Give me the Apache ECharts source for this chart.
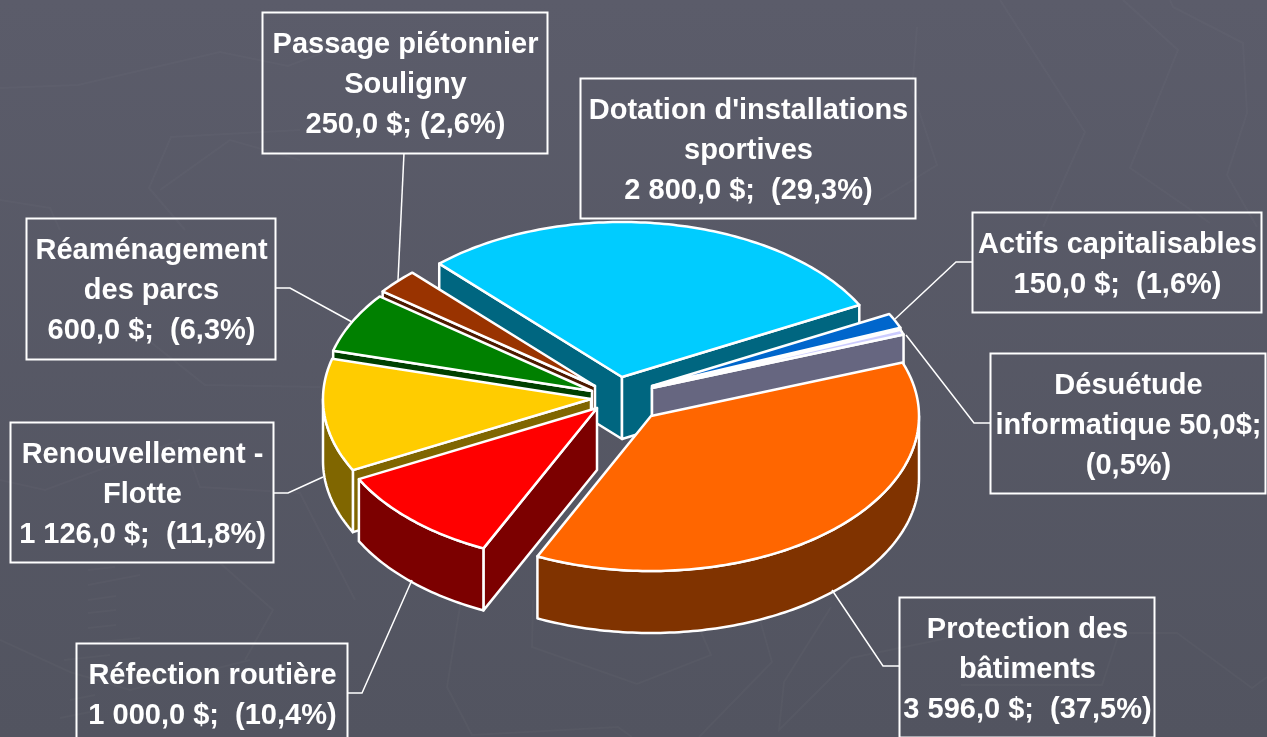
<!DOCTYPE html>
<html>
<head>
<meta charset="utf-8">
<style>
  html, body { margin: 0; padding: 0; background: #565763; }
  #chart { width: 1267px; height: 737px; }
</style>
<script src="https://cdn.jsdelivr.net/npm/echarts@6/dist/echarts.min.js"></script>
</head>
<body>
<div id="chart"></div>
<script>
// data, in pie order (clockwise, starting from the top-left edge of the big blue slice)
const names = [
  "Dotation d'installations sportives",
  "Actifs capitalisables",
  "Désuétude informatique",
  "Protection des bâtiments",
  "Réfection routière",
  "Renouvellement - Flotte",
  "Réaménagement des parcs",
  "Passage piétonnier Souligny"
];
const values = [2800, 150, 50, 3596, 1000, 1126, 600, 250];

const labelLines = [
  ["Dotation d'installations", "sportives", "2 800,0 $;  (29,3%)"],
  ["Actifs capitalisables", "150,0 $;  (1,6%)"],
  ["Désuétude", "informatique 50,0$;", "(0,5%)"],
  ["Protection des", "bâtiments", "3 596,0 $;  (37,5%)"],
  ["Réfection routière", "1 000,0 $;  (10,4%)"],
  ["Renouvellement -", "Flotte", "1 126,0 $;  (11,8%)"],
  ["Réaménagement", "des parcs", "600,0 $;  (6,3%)"],
  ["Passage piétonnier", "Souligny", "250,0 $; (2,6%)"]
];

// look of the slices
const topColors = ["#00ccff", "#0066cc", "#ccccff", "#ff6600", "#ff0000", "#ffcc00", "#008000", "#993300"];
const wallColors = ["#006680", "#003366", "#666680", "#803300", "#7c0000", "#806600", "#004000", "#4d1a00"];

// layout: ECharts has no 3D pie, so the tilted slices are a custom series
const firstAngle = -43;  // degrees clockwise from 12 o'clock
const radiusX = 268;
const radiusY = 155;
const depth = 62;
const apex = [[622, 377], [652, 386], [652, 388], [651, 416], [597, 408], [591, 399], [592, 391], [595, 386]];
const drawOrder = [0, 7, 6, 5, 4, 1, 2, 3]; // back to front

const boxes = [
  [580, 78, 335, 140],
  [972, 212, 289, 100],
  [990, 353, 275, 140],
  [899, 597, 255, 140],
  [76, 643, 271, 100],
  [10, 422, 263, 140],
  [26, 218, 249, 141],
  [262, 12, 285, 141]
];
const leaders = [
  [],
  [[972, 262], [956, 262], [895, 319]],
  [[990, 423], [974, 423], [906, 335]],
  [[899, 666], [883, 666], [832, 590]],
  [[347, 693], [362, 693], [412, 580]],
  [[273, 493], [288, 493], [323, 477]],
  [[275, 288], [290, 288], [352, 322]],
  [[404, 153], [398, 280]]
];

// faint pattern of the slide background
const backdrop = [
  [[0, 88], [78, 85], [220, 52], [288, 66], [330, 50]],
  [[300, 130], [171, 137], [149, 188], [185, 230]],
  [[0, 200], [50, 208], [60, 230]],
  [[148, 340], [205, 385], [320, 387]],
  [[183, 440], [200, 487], [300, 493], [355, 600]],
  [[220, 563], [273, 610], [245, 660]],
  [[0, 640], [70, 672], [130, 690], [250, 660]],
  [[0, 480], [45, 490], [180, 440]],
  [[1000, 0], [1085, 132], [1043, 227]],
  [[1123, 0], [1178, 50], [1130, 168], [1210, 223]],
  [[1170, 0], [1173, 7], [1243, 43], [1247, 113], [1227, 175], [1257, 227]],
  [[917, 27], [912, 90], [937, 165], [880, 200]],
  [[533, 600], [532, 647], [637, 684], [711, 655], [701, 632]],
  [[760, 620], [772, 662], [699, 737]],
  [[461, 600], [447, 687], [472, 735], [618, 727], [632, 737]],
  [[831, 607], [784, 682], [779, 730], [851, 658], [953, 637]],
  [[961, 685], [1102, 685], [1119, 633], [1177, 633], [1252, 688], [1267, 677]],
  [[160, 190], [230, 140], [300, 160]],
  [[88, 570], [115, 567]], [[88, 585], [140, 575]], [[88, 600], [116, 596]], [[88, 613], [116, 610]],
  [[88, 628], [116, 625]], [[88, 643], [140, 638]], [[64, 660], [110, 655]], [[70, 700], [95, 695]], [[60, 718], [90, 712]]
];

const total = values.reduce((a, b) => a + b, 0);
const startAngles = [];
values.reduce((acc, v, i) => {
  startAngles[i] = acc;
  return acc + v / total * 360;
}, firstAngle);

function rimPoint(c, deg, drop) {
  const r = deg * Math.PI / 180;
  return [c[0] + radiusX * Math.sin(r), c[1] - radiusY * Math.cos(r) + (drop || 0)];
}

function arcPoints(c, from, to, drop) {
  const pts = [];
  for (let a = from; a < to; a += 1) pts.push(rimPoint(c, a, drop));
  pts.push(rimPoint(c, to, drop));
  return pts;
}

function face(points, fill, z2) {
  return {
    type: "polygon",
    z2,
    shape: { points },
    style: { fill, stroke: "#fff", lineWidth: 2.5, lineJoin: "round" }
  };
}

function renderSlice(params, api) {
  const i = api.value(1);
  const a0 = startAngles[i];
  const a1 = a0 + api.value(0) / total * 360;
  const c = apex[i];
  const cLow = [c[0], c[1] + depth];
  const z = params.dataIndex * 10;
  const wall = wallColors[i];
  const children = [];

  // radial walls, only those turned to the viewer
  if (Math.sin(a0 * Math.PI / 180) < 0) {
    children.push(face([c, rimPoint(c, a0), rimPoint(c, a0, depth), cLow], wall, z));
  }
  if (Math.sin(a1 * Math.PI / 180) > 0) {
    children.push(face([c, rimPoint(c, a1), rimPoint(c, a1, depth), cLow], wall, z + 1));
  }
  // outer wall on the front half
  const from = Math.max(a0, 90);
  const to = Math.min(a1, 270);
  if (from < to) {
    const rim = arcPoints(c, from, to, 0).concat(arcPoints(c, from, to, depth).reverse());
    children.push(face(rim, wall, z + 2));
  }
  children.push(face([c].concat(arcPoints(c, a0, a1, 0)), topColors[i], z + 3));
  return { type: "group", children };
}

function renderLabel(params, api) {
  const i = api.value(0);
  const [x, y, w, h] = boxes[i];
  const lines = labelLines[i];
  const children = [{
    type: "rect",
    shape: { x: x + 0.5, y: y + 0.5, width: w, height: h },
    style: { fill: "rgba(0,0,0,0)", stroke: "#fff", lineWidth: 2 }
  }];
  if (leaders[i].length) {
    children.push({
      type: "polyline",
      shape: { points: leaders[i] },
      style: { fill: "none", stroke: "#fff", lineWidth: 1.5 }
    });
  }
  lines.forEach((line, k) => {
    children.push({
      type: "text",
      style: {
        text: line,
        x: x + w / 2 + 1,
        y: y + h / 2 + 2.5 + (k - (lines.length - 1) / 2) * 40,
        align: "center",
        verticalAlign: "middle",
        fill: "#fff",
        font: "bold 29px 'Liberation Sans', Arial, sans-serif"
      }
    });
  });
  return { type: "group", children };
}

const chart = echarts.init(document.getElementById("chart"), null, { width: 1267, height: 737 });

chart.setOption({
  animation: false,
  backgroundColor: new echarts.graphic.LinearGradient(0, 0, 0, 1, [
    { offset: 0, color: "#5b5c6a" },
    { offset: 1, color: "#525460" }
  ]),
  graphic: backdrop.map((points) => ({
    type: "polyline",
    silent: true,
    z: -10,
    shape: { points },
    style: { fill: "none", stroke: "rgba(255,255,255,0.025)", lineWidth: 2 }
  })),
  series: [
    {
      type: "custom",
      name: "Slices",
      coordinateSystem: "none",
      renderItem: renderSlice,
      data: drawOrder.map((i) => ({ name: names[i], value: [values[i], i] })),
      z: 2
    },
    {
      type: "custom",
      name: "Labels",
      coordinateSystem: "none",
      renderItem: renderLabel,
      data: names.map((name, i) => ({ name, value: [i] })),
      z: 3
    }
  ]
});
</script>
</body>
</html>
